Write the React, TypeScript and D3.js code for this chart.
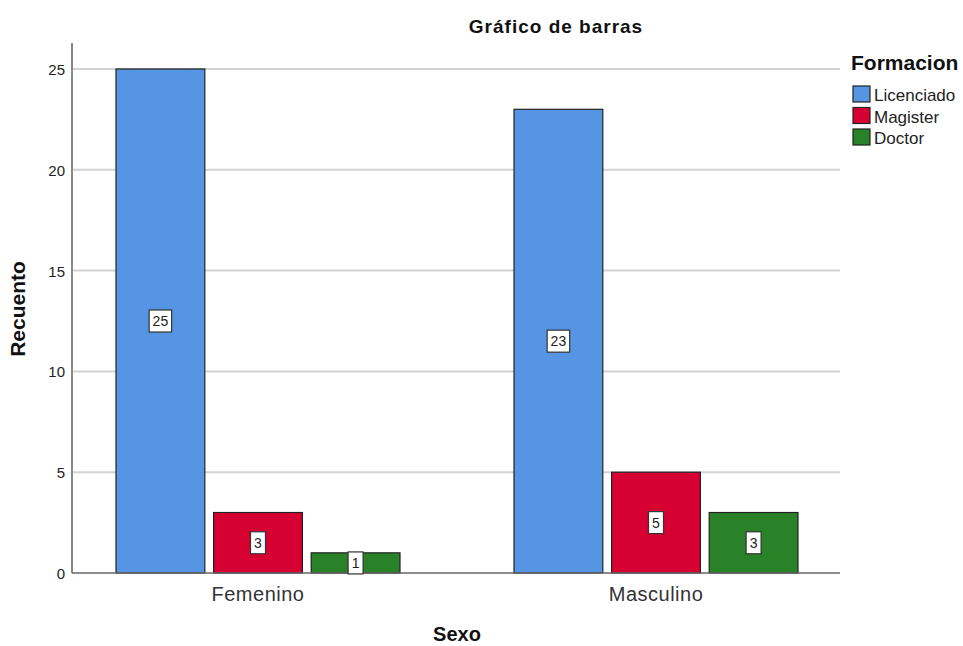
import React, { useEffect } from "react";
import * as d3 from "d3";

const categories = ["Femenino", "Masculino"];
const series = ["Licenciado", "Magister", "Doctor"];
const licenciado = [25, 23];
const magister = [3, 5];
const doctor = [1, 3];
const yTicks = [0, 5, 10, 15, 20, 25];
const colors = ["#5694E4", "#D60032", "#2A8228"];

const W = 963, H = 646;
const FONT = "'Liberation Sans', Arial, sans-serif";

export default function App() {
  useEffect(() => {
    document.body.style.margin = "0";
  }, []);
  const values = [licenciado, magister, doctor];
  const x = d3.scaleBand<string>().domain(categories).range([59, 855]).padding(0);
  const x1 = d3.scaleBand<string>().domain(series).range([57, 341]).paddingInner(0.09);
  const y = d3.scaleLinear().domain([0, 25]).range([573, 69]);
  const plotL = 72, plotR = 840;

  return (
    <svg width={W} height={H} style={{ display: "block", fontFamily: FONT }}>
      <rect width={W} height={H} fill="#fff" />
      {yTicks.filter((t) => t > 0).map((t) => (
        <line key={t} x1={plotL} x2={plotR} y1={y(t)} y2={y(t)} stroke="#d2d2d2" strokeWidth={2} />
      ))}
      {yTicks.map((t) => (
        <text key={"l" + t} x={65} y={y(t) + 6} textAnchor="end" fontSize={15} fill="#222">{t}</text>
      ))}
      {categories.map((c, ci) => (
        <g key={c}>
          {series.map((s, si) => {
            const v = values[si][ci];
            const bx = (x(c) as number) + (x1(s) as number);
            const bw = x1.bandwidth();
            return (
              <rect key={s} x={bx} y={y(v)} width={bw} height={y(0) - y(v)} fill={colors[si]} stroke="#222" strokeWidth={1.2} />
            );
          })}
          <text x={(x(c) as number) + x.bandwidth() / 2} y={601} textAnchor="middle" fontSize={20} letterSpacing={0.5} fill="#333">{c}</text>
        </g>
      ))}
      <line x1={plotL} x2={plotL} y1={43} y2={573} stroke="#888" strokeWidth={2} />
      <line x1={plotL} x2={plotR} y1={573} y2={573} stroke="#666" strokeWidth={1.5} />
      {categories.map((c, ci) => (
        <g key={"lab" + c}>
          {series.map((s, si) => {
            const v = values[si][ci];
            const cx = (x(c) as number) + (x1(s) as number) + x1.bandwidth() / 2;
            const cy = y(v / 2);
            const txt = String(v);
            const bw = txt.length * 7.5 + 7.5;
            return (
              <g key={s}>
                <rect x={cx - bw / 2} y={cy - 11} width={bw} height={22} fill="#fff" stroke="#333" strokeWidth={1.2} />
                <text x={cx} y={cy + 5} textAnchor="middle" fontSize={14} fill="#222">{txt}</text>
              </g>
            );
          })}
        </g>
      ))}
      <text x={556} y={33} textAnchor="middle" fontSize={19} letterSpacing={1} fontWeight="bold" fill="#111">Gráfico de barras</text>
      <text transform={`translate(25,309) rotate(-90)`} textAnchor="middle" fontSize={21} fontWeight="bold" fill="#111">Recuento</text>
      <text x={457} y={641} textAnchor="middle" fontSize={20} fontWeight="bold" fill="#111">Sexo</text>
      <text x={851} y={70} fontSize={21} fontWeight="bold" fill="#111">Formacion</text>
      {series.map((s, si) => (
        <g key={s} transform={`translate(853,${86 + si * 21.5})`}>
          <rect x={0} y={0} width={17} height={16} fill={colors[si]} stroke="#222" strokeWidth={1.2} />
          <text x={21} y={15} fontSize={17} fill="#222">{s}</text>
        </g>
      ))}
    </svg>
  );
}
